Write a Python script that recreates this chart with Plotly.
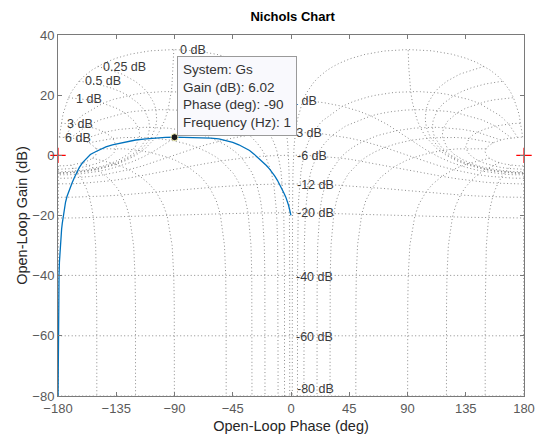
import numpy as np
import plotly.graph_objects as go

# ---------------- data ----------------
curve_phase = [-179.95, -179.85, -179.7, -179.5, -179.2, -178.9, -178.4, -177.7,
               -177.2, -176.7, -176.0, -175.2, -174.2, -173.0, -171.8, -170.5,
               -169.0, -167.5, -165.6, -163.5, -161.0, -158.0, -155.0, -151.0,
               -147.8, -143.0, -138.0, -132.0, -126.0, -120.0, -112.0, -104.0,
               -97.0, -90.0,
               -83.0, -76.0, -69.0, -62.0, -55.7, -50.0, -45.0, -40.3, -36.0,
               -32.0, -28.5, -25.0, -22.0, -19.0, -16.5, -14.7, -12.5, -10.5,
               -8.7, -7.0, -5.5, -4.0, -2.8, -1.9, -1.1, -0.6, -0.25, -0.05]
curve_gain = [-80.0, -64.0, -54.0, -46.0, -40.0, -35.5, -31.0, -27.0,
              -24.5, -22.6, -20.2, -17.8, -15.6, -13.6, -12.0, -10.5,
              -9.0, -7.5, -5.6, -4.0, -2.4, -0.9, 0.3, 1.2,
              1.9, 2.8, 3.5, 4.1, 4.7, 5.1, 5.5, 5.8,
              5.95, 6.02,
              6.0, 5.95, 5.85, 5.7, 5.45, 4.95, 4.3, 3.5, 2.6,
              1.6, 0.4, -0.9, -2.1, -3.4, -4.6, -5.5, -6.9, -8.3,
              -9.7, -11.1, -12.5, -13.9, -15.3, -16.6, -18.0, -19.2, -19.8, -19.97]

tip_phase = [-90]
tip_gain = [6.02]
tip_lines = ["System: Gs", "Gain (dB): 6.02", "Phase (deg): -90", "Frequency (Hz): 1"]

crit_phase = [-180, 180]
crit_gain = [0, 0]

x_ticks = [-180, -135, -90, -45, 0, 45, 90, 135, 180]
y_ticks = [-80, -60, -40, -20, 0, 20, 40]

# Nichols grid: closed-loop gains (dB) and phases (deg)
iso_gain_db = [6, 3, 1, 0.5, 0.25, 0, -1, -3, -6, -12, -20, -40, -60, -80]
iso_phase_deg = [1, 5, 10, 20, 30, 50, 90, 120, 150, 180]
gain_pts_db = [6, 3, 2, 1, 0.75, 0.5, 0.4, 0.3, 0.25, 0.2, 0.15, 0.1, 0.05, 0,
               -0.05, -0.1, -0.15, -0.2, -0.25, -0.3, -0.4, -0.5, -0.75, -1, -2,
               -3, -4, -5, -6, -9, -12, -16, -20, -30, -40, -50, -60, -70, -80,
               -90, -100, -120]
phase_pts_deg = [1, 2, 3, 4, 5, 7.5, 10, 15, 20, 25, 30, 45, 60, 75, 90, 105,
                 120, 135, 150, 165, 180]

# labels of the isogain curves (text, phase, gain) as seen on the picture
lbl_text = ["0 dB", "0.25 dB", "0.5 dB", "1 dB", "3 dB", "6 dB",
            "-1 dB", "-3 dB", "-6 dB", "-12 dB", "-20 dB", "-40 dB", "-60 dB", "-80 dB"]
lbl_phase = [-87, -146.5, -161, -167.7, -174.6, -176,
             -4.3, -0.5, 3.2, 3.2, 3.2, 2.0, 2.0, 3.2]
lbl_gain = [35, 29.5, 24.7, 18.8, 10.4, 5.85,
            18.2, 7.5, -0.2, -9.8, -19.3, -40.4, -60.4, -77.7]

FONT = "Liberation Sans, Arial, Helvetica, sans-serif"


def cl_to_ol(m_db, phi_deg):
    m = 10 ** (np.asarray(m_db, float) / 20.0)
    phi = np.deg2rad(np.asarray(phi_deg, float))
    t = m * np.exp(1j * phi)
    g = t / (1 - t)
    gain = 20 * np.log10(np.abs(g))
    ph = np.asarray(phi_deg, float) - np.rad2deg(np.angle(1 - t))
    return ph, gain


full_phase = phase_pts_deg + [360 - p for p in reversed(phase_pts_deg[:-1])]

gx, gy = [], []
for gdb in iso_gain_db:
    ph, ga = cl_to_ol(np.full(len(full_phase), gdb), -np.array(full_phase))
    for off in (0, 360):
        gx += list(ph + off) + [None]
        gy += list(ga) + [None]
for p in iso_phase_deg:
    for phi in (-p, -360 + p):
        ph, ga = cl_to_ol(np.array(gain_pts_db), np.full(len(gain_pts_db), phi))
        for off in (0, 360):
            gx += list(ph + off) + [None]
            gy += list(ga) + [None]

fig = go.Figure()
fig.add_trace(go.Scatter(x=gx, y=gy, mode="lines", hoverinfo="skip",
                         line=dict(color="#8a8a8a", width=1, dash="1px,2.5px")))
fig.add_trace(go.Scatter(x=curve_phase, y=curve_gain, mode="lines",
                         line=dict(color="#0072BD", width=1.3)))
fig.add_trace(go.Scatter(x=crit_phase, y=crit_gain, mode="markers", cliponaxis=False,
                         marker=dict(symbol="cross-thin", size=11,
                                     line=dict(color="#ff0000", width=1.2))))
fig.add_trace(go.Scatter(x=tip_phase, y=tip_gain, mode="markers",
                         marker=dict(color="#1a1a1a", size=7,
                                     line=dict(color="#f2f0b0", width=1))))

for t, px, gy_ in zip(lbl_text, lbl_phase, lbl_gain):
    fig.add_annotation(x=px, y=gy_, text=t, showarrow=False, xanchor="left",
                       yanchor="middle", font=dict(family=FONT, size=12.5, color="#3a3a3a"))

fig.add_annotation(x=tip_phase[0], y=tip_gain[0], text="<br>".join(tip_lines),
                   showarrow=False, xanchor="left", yanchor="bottom", align="left",
                   xshift=2, yshift=1, bgcolor="#f9f9fd", bordercolor="#9a9a9a",
                   borderwidth=1, borderpad=5,
                   font=dict(family=FONT, size=13.5, color="#333333"))

axis_common = dict(showgrid=False, zeroline=False, ticks="inside", ticklen=4,
                   tickcolor="#7a7a7a", showline=True, linecolor="#7a7a7a",
                   linewidth=1, mirror="ticks",
                   tickfont=dict(family=FONT, size=13, color="#5a5a5a"))

fig.update_layout(
    width=547, height=445,
    margin=dict(l=58, r=20, t=35, b=49),
    paper_bgcolor="white", plot_bgcolor="white",
    showlegend=False,
    title=dict(text="<b>Nichols Chart</b>", x=0.535, xanchor="center", y=0.962,
               yanchor="middle", font=dict(family=FONT, size=13, color="#000000")),
    xaxis=dict(range=[-180, 180], tickvals=x_ticks,
               title=dict(text="Open-Loop Phase (deg)", standoff=6,
                          font=dict(family=FONT, size=14.5, color="#262626")),
               **axis_common),
    yaxis=dict(range=[-80, 40], tickvals=y_ticks,
               title=dict(text="Open-Loop Gain (dB)", standoff=1,
                          font=dict(family=FONT, size=14.5, color="#262626")),
               **axis_common),
)

fig.write_html("out.html")
